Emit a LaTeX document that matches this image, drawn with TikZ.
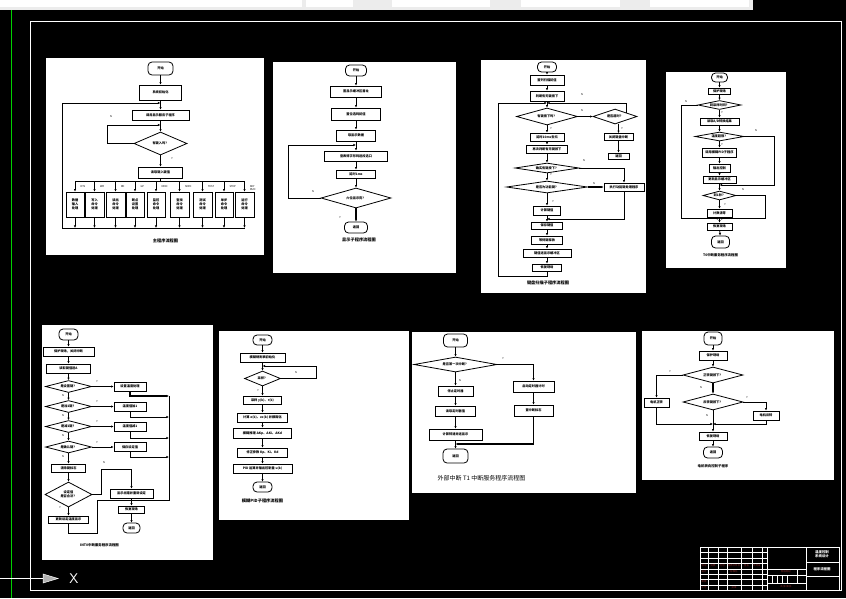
\documentclass[tikz,border=0pt]{standalone}
\usepackage{fontspec}
\newfontfamily\cjk{Noto Sans CJK SC}
\usetikzlibrary{arrows.meta,shapes.geometric}
\definecolor{cadgreen}{RGB}{0,210,0}
\definecolor{tbred}{RGB}{150,45,45}
\tikzset{sz/.style 2 args={minimum width=#1pt, minimum height=#2pt}}

\begin{document}
\begin{tikzpicture}[x=1pt, y=-1pt,
    font=\cjk\bfseries\fontsize{3.2}{3.9}\selectfont,
    sheet/.style={fill=white},
    proc/.style={draw, line width=0.8pt, inner sep=0pt, align=center},
    term/.style={proc, rounded corners=4pt},
    test/.style={diamond, draw, line width=0.8pt, inner sep=0pt, aspect=4, align=center},
    arrow/.style={-{Latex[length=2.6pt,width=2.4pt]}, line width=0.8pt},
    link/.style={line width=0.8pt},
    yn/.style={font=\cjk\fontsize{2.6}{3}\selectfont},
    caption/.style={font=\cjk\bfseries\fontsize{4.2}{5}\selectfont},
    tbline/.style={draw=white, line width=0.4pt},
    tbtext/.style={text=tbred, font=\cjk\fontsize{2.4}{2.8}\selectfont}
  ]
  \useasboundingbox (0,0) rectangle (846,598);
  \fill[black] (0,0) rectangle (846,598);
  \fill[gray!15] (0,0) rectangle (753,10);
  \fill[white] (0,0) rectangle (302,7);
  \fill[white] (306,0) rectangle (353,7);
  \fill[white] (392,0) rectangle (490,7);
  \fill[white] (521,0) rectangle (620,7);
  \fill[white] (650,0) rectangle (749,7);
  \draw[cadgreen, line width=0.8pt] (11,10) -- (11,598);
  \draw[white, line width=0.6pt] (30,21.5) rectangle (841,590);

  \fill[sheet] (46,58) rectangle (264,255);
  \node[term, sz={25}{13}] (p1start) at (160.5,68.5) {开始};
  \node[proc, sz={42}{15}] (p1init) at (160.5,92.5) {系统初始化};
  \node[proc, sz={57}{10}] (p1disp) at (160.5,115) {调用显示服务子程序};
  \node[test, sz={53}{23}] (p1key) at (160.5,143.5) {有键入吗？};
  \node[proc, sz={44}{11}] (p1read) at (160.5,172.5) {读取键入键值};
  \coordinate (p1top) at (160.5,103);
  \coordinate (p1bus) at (160.5,181);
  \coordinate (p1low) at (62,228);
  \coordinate (p1wait) at (107,125);
  \draw[arrow] (p1start) -- (p1init);
  \draw[arrow] (p1init) -- (p1disp);
  \draw[arrow] (p1disp) -- (p1key);
  \draw[arrow] (p1key) -- (p1read);
  \draw[link] (p1read) -- (p1bus);
  \draw[arrow] (p1key.west) -| (p1wait) -- (p1wait -| p1key);
  \foreach \n/\x/\w/\lab/\txt in {
      1/75/18/DTS/{数据\\输入\\处理}, 2/94.5/19/WR/{写入\\命令\\处理},
      3/115.5/19/RD/{读出\\命令\\处理}, 4/135/18/GP/{断点\\设置\\处理},
      5/156/18/MON/{监控\\命令\\处理}, 6/179.5/19/SERC/{查找\\命令\\处理},
      7/202.5/19/TEST/{测试\\命令\\处理}, 8/224/18/STEP/{单步\\命令\\处理},
      9/244.5/19/{KEY\\RUN}/{运行\\命令\\处理}} {
    \node[proc, sz={\w}{25}] (p1k\n) at (\x,204.5) {\txt};
    \draw[arrow] (p1k\n.north |- p1bus) -- (p1k\n);
    \draw[arrow] (p1k\n) -- (p1k\n |- p1low);
    \node[yn, anchor=north west, align=left] (p1l\n) at ([xshift=2pt,yshift=-1pt]p1k\n.north |- p1bus) {\lab};
  }
  \draw[link] (p1k1.north |- p1bus) -- (p1k9.north |- p1bus);
  \draw[link] (p1low) -- (p1low -| p1k9);
  \draw[arrow] (p1low) |- (p1top);
  \node[yn] (p1n) at (111,117) {N};
  \node[yn] (p1y) at (172,159) {Y};
  \node[caption] (p1cap) at (165.5,240.5) {主程序流程图};

  \fill[sheet] (273,62) rectangle (456,273);
  \node[term, sz={21}{11}] (p2start) at (356,70.5) {开始};
  \node[proc, sz={51}{11}] (p2b1) at (356,91.5) {置显示缓冲区首址};
  \node[proc, sz={49}{12}] (p2b2) at (356,114) {置位选码初值};
  \node[proc, sz={39}{11}] (p2b3) at (356,135.5) {取显示数据};
  \node[proc, sz={63}{10}] (p2b4) at (356,156) {查表得字形码送段选口};
  \node[proc, sz={39}{8}] (p2b5) at (356,174) {延时1ms};
  \node[test, sz={70}{20}] (p2d) at (356,198) {六位显示完？};
  \node[term, sz={23}{11}] (p2end) at (356,227.5) {返回};
  \coordinate (p2hook) at (288,145);
  \coordinate (p2top) at (356,145);
  \draw[arrow] (p2start) -- (p2b1);
  \draw[arrow] (p2b1) -- (p2b2);
  \draw[arrow] (p2b2) -- (p2b3);
  \draw[arrow] (p2b3) -- (p2b4);
  \draw[arrow] (p2b4) -- (p2b5);
  \draw[arrow] (p2b5) -- (p2d);
  \draw[arrow, line width=1.2pt] (p2d) -- (p2end);
  \draw[arrow] (p2d.west) -| (p2hook) -- (p2top);
  \node[yn] (p2n) at (313,192) {N};
  \node[yn] (p2y) at (340,218) {Y};
  \node[caption] (p2cap) at (359,240) {显示子程序流程图};

  \fill[sheet] (481,60) rectangle (646,293);
  \node[term, sz={19}{10}] (p3start) at (547,67) {开始};
  \node[proc, sz={34}{10}] (p3b1) at (547,80) {置列扫描初值};
  \node[proc, sz={34}{10}] (p3b2) at (547,96) {判断有无键按下};
  \node[test, sz={61}{17}] (p3d1) at (547,116.5) {有键按下吗？};
  \node[test, sz={44}{15}] (p3d2) at (615,116.5) {是否超时？};
  \node[proc, sz={29}{7}] (p3r1) at (618.5,137) {关闭键盘中断};
  \node[proc, sz={21}{6}] (p3r2) at (618.5,156) {返回};
  \node[proc, sz={34}{8}] (p3a) at (547,137) {延时10ms去抖};
  \node[proc, sz={41}{8}] (p3b) at (547,149) {再次判断有无键按下};
  \node[test, sz={64}{10}] (p3d3) at (547,168) {确实有键按下？};
  \node[test, sz={81}{12}] (p3d4) at (547,187) {是否为功能键？};
  \node[proc, sz={40}{8}] (p3c) at (624,187) {执行功能键处理程序};
  \node[proc, sz={27}{9}] (p3d) at (547,210.5) {计算键值};
  \node[proc, sz={31}{7}] (p3e) at (547,225.5) {保存键值};
  \node[proc, sz={31}{8}] (p3f) at (547,240) {等待键释放};
  \node[proc, sz={48}{8}] (p3g) at (547,253) {键值送显示缓冲区};
  \node[proc, sz={29}{7}] (p3h) at (547,267.5) {恢复现场};
  \coordinate (p3top) at (547,103);
  \coordinate (p3lb) at (498,276);
  \coordinate (p3join) at (547,219);
  \draw[arrow] (p3start) -- (p3b1);
  \draw[arrow] (p3b1) -- (p3b2);
  \draw[arrow] (p3b2) -- (p3d1);
  \draw[arrow] (p3d1) -- (p3a);
  \draw[arrow] (p3a) -- (p3b);
  \draw[arrow] (p3b) -- (p3d3);
  \draw[arrow] (p3d3) -- (p3d4);
  \draw[arrow] (p3d4) -- (p3d);
  \draw[arrow] (p3d) -- (p3e);
  \draw[arrow] (p3e) -- (p3f);
  \draw[arrow] (p3f) -- (p3g);
  \draw[arrow] (p3g) -- (p3h);
  \draw[arrow] (p3d1) -- (p3d2);
  \draw[arrow] (p3d2.south -| p3r1) -- (p3r1);
  \draw[arrow, line width=1.4pt] (p3r1) -- (p3r2);
  \draw[arrow] (p3d2.north east) |- (p3top);
  \draw[arrow] (p3d3.east) -| (p3c);
  \draw[arrow, line width=1.2pt] (p3d4) -- (p3c);
  \draw[arrow] (p3c) |- (p3join);
  \draw[arrow] (p3h) |- (p3lb) |- (p3top);
  \node[yn] (p3n1) at (582,95) {N};
  \node[yn] (p3n2) at (582,111) {N};
  \node[yn] (p3y1) at (622,129) {Y};
  \node[yn] (p3y2) at (551,129) {Y};
  \node[yn] (p3n3) at (584,161) {N};
  \node[yn] (p3y3) at (551,175) {Y};
  \node[yn] (p3n4) at (594,184) {N};
  \node[yn] (p3y4) at (553,202) {Y};
  \node[caption] (p3cap) at (548,282.5) {键盘扫描子程序流程图};

  \fill[sheet] (666,72) rectangle (786,268);
  \node[term, sz={16}{9}] (p4start) at (719.5,77.5) {开始};
  \node[proc, sz={22}{6}] (p4b1) at (719.5,91) {保护现场};
  \node[test, sz={43}{9}] (p4d1) at (719.5,105) {到采样时间？};
  \node[proc, sz={39}{7}] (p4b2) at (719.5,121.5) {读取A/D转换结果};
  \node[test, sz={49}{9}] (p4d2) at (719.5,136.5) {温度超限？};
  \node[proc, sz={34}{9}] (p4b3) at (719.5,152.5) {调用模糊PID子程序};
  \node[proc, sz={21}{8}] (p4b4) at (719.5,168) {输出控制};
  \node[proc, sz={33}{7}] (p4b5) at (719.5,179.5) {更新显示缓冲区};
  \node[test, sz={33}{9}] (p4d3) at (719.5,195.5) {到1秒？};
  \node[proc, sz={25}{8}] (p4b6) at (719.5,213) {计数清零};
  \node[proc, sz={25}{7}] (p4b7) at (719.5,226.5) {恢复现场};
  \node[term, sz={18}{12}] (p4end) at (720.5,242) {返回};
  \coordinate (p4ll) at (681,218.5);
  \coordinate (p4j2) at (719.5,218.5);
  \coordinate (p4rr) at (774,185);
  \coordinate (p4j1) at (719.5,185);
  \coordinate (p4r3) at (765,218.5);
  \draw[arrow] (p4start) -- (p4b1);
  \draw[arrow] (p4b1) -- (p4d1);
  \draw[arrow] (p4d1) -- (p4b2);
  \draw[arrow] (p4b2) -- (p4d2);
  \draw[arrow] (p4d2) -- (p4b3);
  \draw[arrow] (p4b3) -- (p4b4);
  \draw[arrow] (p4b4) -- (p4b5);
  \draw[arrow] (p4b5) -- (p4d3);
  \draw[arrow] (p4d3) -- (p4b6);
  \draw[arrow] (p4b6) -- (p4b7);
  \draw[arrow] (p4b7) -- (p4end);
  \draw[arrow] (p4d1.west) -| (p4ll) -- (p4j2);
  \draw[arrow] (p4d2.east) -| (p4rr) -- (p4j1);
  \draw[arrow] (p4d3.east) -| (p4r3) -- (p4j2);
  \node[yn] (p4n1) at (686,102) {N};
  \node[yn] (p4y1) at (722,113) {Y};
  \node[yn] (p4n2) at (756,131) {N};
  \node[yn] (p4y2) at (722,145) {Y};
  \node[yn] (p4n3) at (743,190) {N};
  \node[yn] (p4y3) at (725,205) {Y};
  \node[caption, font=\cjk\bfseries\fontsize{3.4}{4}\selectfont] (p4cap) at (720.5,255.5) {T0中断服务程序流程图};

  \fill[sheet] (42,325) rectangle (213,560);
  \node[term, sz={19}{11}] (p5start) at (68.5,334.5) {开始};
  \node[proc, sz={51}{9}] (p5b1) at (68.5,351.5) {保护现场，关闭中断};
  \node[proc, sz={44}{9}] (p5b2) at (68.5,368.5) {读取键值送A};
  \foreach \n/\y/\q/\act in {1/386.5/是设置键？/设置温度处理, 2/406.5/是加1键？/温度值加1,
      3/426.5/是减1键？/温度值减1, 4/447/是确认键？/保存设定值} {
    \node[test, sz={46}{12}] (p5d\n) at (68.5,\y) {\q};
    \node[proc, sz={32}{9}] (p5r\n) at (130,\y) {\act};
    \draw[arrow] (p5d\n) -- (p5r\n);
    \node[yn] (p5y\n) at (97,\y-4.5) {Y};
    \node[yn] (p5n\n) at (63,\y+9.5) {N};
  }
  \node[proc, sz={34}{8}] (p5b5) at (68.5,468) {清除键标志};
  \node[test, sz={47}{25}] (p5d5) at (68.5,494.5) {设定值\\是否合法？};
  \node[proc, sz={43}{9}] (p5r5) at (131.5,493.5) {显示出错并重新设定};
  \node[proc, sz={40}{7}] (p5b6) at (68.5,519.5) {更新设定温度显示};
  \node[proc, sz={26}{7}] (p5b7) at (131.5,509.5) {恢复现场};
  \node[term, sz={17}{10}] (p5end) at (131.5,528) {返回};
  \coordinate (p5e1) at (169,396);
  \coordinate (p5e2) at (169,417);
  \coordinate (p5e3) at (169,438);
  \coordinate (p5e4) at (169,457);
  \coordinate (p5bend) at (169,500.5);
  \coordinate (p5back) at (97,500.5);
  \coordinate (p5foot) at (97,533);
  \coordinate (p5mid) at (131.5,500.5);
  \coordinate (p5hop) at (101,469);
  \draw[arrow] (p5start) -- (p5b1);
  \draw[arrow] (p5b1) -- (p5b2);
  \draw[arrow] (p5b2) -- (p5d1);
  \draw[arrow] (p5d1) -- (p5d2);
  \draw[arrow] (p5d2) -- (p5d3);
  \draw[arrow] (p5d3) -- (p5d4);
  \draw[arrow, line width=1.2pt] (p5d4) -- (p5b5);
  \draw[arrow] (p5b5) -- (p5d5);
  \draw[arrow, line width=1.2pt] (p5d5) -- (p5b6);
  \draw[arrow, line width=1.2pt] (p5r1) |- (p5e1);
  \draw[arrow] (p5r2) |- (p5e2);
  \draw[arrow] (p5r3) |- (p5e3);
  \draw[arrow] (p5r4) |- (p5e4);
  \draw[link] (p5e1) -- (p5bend);
  \draw[link, line width=1.2pt] (p5bend) -- (p5back);
  \draw[link] (p5b6) |- (p5foot) -- (p5back);
  \draw[arrow] (p5d5.east) -| (p5hop) -| (p5r5);
  \draw[link] (p5r5) -- (p5mid);
  \draw[arrow] (p5mid) -- (p5b7);
  \draw[arrow] (p5b7) -- (p5end);
  \node[yn] (p5n5) at (104,463) {N};
  \node[yn] (p5y5) at (60,508) {Y};
  \node[caption, font=\cjk\bfseries\fontsize{3.4}{4}\selectfont] (p5cap) at (99.5,545.5) {INT0中断服务程序流程图};

  \fill[sheet] (219,331) rectangle (409,520);
  \node[term, sz={19}{10}] (p6start) at (262.5,340) {开始};
  \node[proc, sz={45}{9}] (p6b1) at (262.5,357.5) {模糊规则表初始化};
  \node[test, sz={36}{15}] (p6d) at (262.5,378.5) {采样？};
  \node[proc, sz={38}{8}] (p6b2) at (262.5,400) {采样 y(k)、r(k)};
  \node[proc, sz={50}{9}] (p6b3) at (262.5,417.5) {计算 e(k)、ec(k) 并模糊化};
  \node[proc, sz={58}{10}] (p6b4) at (262.5,433) {模糊推理 ΔKp、ΔKi、ΔKd};
  \node[proc, sz={50}{9}] (p6b5) at (262.5,452.5) {修正参数 Kp、Ki、Kd};
  \node[proc, sz={59}{9}] (p6b6) at (262.5,468.5) {PID 运算并输出控制量 u(k)};
  \node[term, sz={19}{10}] (p6end) at (262.5,487) {返回};
  \coordinate (p6hook) at (316,366);
  \coordinate (p6top) at (262.5,366);
  \draw[arrow] (p6start) -- (p6b1);
  \draw[arrow] (p6b1) -- (p6d);
  \draw[arrow] (p6d) -- (p6b2);
  \draw[arrow] (p6b2) -- (p6b3);
  \draw[arrow] (p6b3) -- (p6b4);
  \draw[arrow] (p6b4) -- (p6b5);
  \draw[arrow] (p6b5) -- (p6b6);
  \draw[arrow] (p6b6) -- (p6end);
  \draw[arrow] (p6d.east) -| (p6hook) -- (p6top);
  \node[yn] (p6n) at (296,373) {N};
  \node[yn] (p6y) at (258,391) {Y};
  \node[caption] (p6cap) at (262.5,500.5) {模糊PID子程序流程图};

  \fill[sheet] (412,332) rectangle (636,493);
  \node[term, sz={24}{13}] (p7start) at (455.5,340.5) {开始};
  \node[test, sz={83}{15}] (p7d) at (455.5,364.5) {是否第一次中断？};
  \node[proc, sz={41}{11}] (p7r1) at (533.5,386.5) {启动定时器计时};
  \node[proc, sz={39}{11}] (p7r2) at (533.5,410.5) {置中断标志};
  \node[proc, sz={35}{10}] (p7l1) at (455.5,391) {停止定时器};
  \node[proc, sz={40}{10}] (p7l2) at (455.5,411) {读取定时器值};
  \node[proc, sz={53}{11}] (p7l3) at (455.5,434.5) {计算转速并送显示};
  \node[term, sz={25}{14}] (p7end) at (455.5,456) {返回};
  \coordinate (p7join) at (455.5,444);
  \draw[arrow] (p7start) -- (p7d);
  \draw[arrow, line width=1.2pt] (p7d) -- (p7l1);
  \draw[arrow] (p7l1) -- (p7l2);
  \draw[arrow, line width=1.2pt] (p7l2) -- (p7l3);
  \draw[arrow] (p7l3) -- (p7end);
  \draw[arrow] (p7d.east) -| (p7r1);
  \draw[arrow] (p7r1) -- (p7r2);
  \draw[arrow, line width=1.2pt] (p7r2) |- (p7join);
  \node[yn] (p7y) at (503,359) {Y};
  \node[yn] (p7n) at (460,381) {N};
  \node[caption, font=\cjk\fontsize{6}{7}\selectfont] (p7cap) at (481.5,478) {外部中断 T1 中断服务程序流程图};

  \fill[sheet] (642,331) rectangle (834,480);
  \node[term, sz={18}{13}] (p8start) at (713,338.5) {开始};
  \node[proc, sz={28}{9}] (p8b1) at (713,355.5) {保护现场};
  \node[test, sz={60}{16}] (p8d1) at (713,375) {正转键按下？};
  \node[proc, sz={25}{9}] (p8l) at (656.5,402.5) {电机正转};
  \node[test, sz={60}{16}] (p8d2) at (713,402) {反转键按下？};
  \node[proc, sz={26}{9}] (p8r) at (766,415.5) {电机反转};
  \node[proc, sz={28}{8}] (p8b2) at (713,436) {恢复现场};
  \node[term, sz={19}{11}] (p8end) at (713,452.5) {返回};
  \coordinate (p8join) at (713,424);
  \draw[arrow] (p8start) -- (p8b1);
  \draw[arrow] (p8b1) -- (p8d1);
  \draw[arrow, line width=1.2pt] (p8d1) -- (p8d2);
  \draw[arrow] (p8d1.west) -| (p8l);
  \draw[arrow] (p8l) |- (p8join);
  \draw[arrow] (p8d2.east) -| (p8r);
  \draw[arrow] (p8r) |- (p8join);
  \draw[arrow] (p8d2) -- (p8b2);
  \draw[arrow] (p8b2) -- (p8end);
  \node[yn] (p8y1) at (670,372) {Y};
  \node[yn] (p8n1) at (701,388) {N};
  \node[yn] (p8y2) at (747,398) {Y};
  \node[yn] (p8n2) at (707,416) {N};
  \node[caption, font=\cjk\bfseries\fontsize{3.4}{4}\selectfont] (p8cap) at (713,466.5) {电机转向控制子程序};

  \draw[tbline] (700,547) rectangle (839,590);
  \draw[tbline] (767,547) -- (767,590);
  \draw[tbline] (806,547) -- (806,590);
  \foreach \y in {552,558,563,569,574,579,585}
    \draw[tbline] (700,\y) -- (767,\y);
  \foreach \x in {708,718,727,741,752,762}
    \draw[tbline] (\x,547) -- (\x,590);
  \draw[tbline] (767,569) -- (806,569);
  \draw[tbline] (767,575) -- (806,575);
  \draw[tbline] (767,583) -- (806,583);
  \foreach \x in {772,777,782,787}
    \draw[tbline] (\x,575) -- (\x,583);
  \draw[tbline] (797,569) -- (797,583);
  \draw[tbline] (806,562) -- (839,562);
  \draw[tbline] (806,576) -- (839,576);
  \node[tbtext] (tbmark) at (704,566) {标记};
  \node[tbtext] (tbcount) at (713,566) {处数};
  \node[tbtext] (tbzone) at (722.5,566) {分区};
  \node[tbtext] (tbfile) at (734,566) {更改文件号};
  \node[tbtext] (tbsign) at (746.5,566) {签名};
  \node[tbtext] (tbdate) at (757,566) {年月日};
  \node[tbtext] (tbdesign) at (704,571.5) {设计};
  \node[tbtext] (tbcheck) at (704,582) {审核};
  \node[tbtext] (tbcraft) at (704,587.5) {工艺};
  \node[tbtext] (tbstd) at (734,571.5) {标准化};
  \node[tbtext] (tbapprove) at (734,587.5) {批准};
  \node[tbtext] (tbstage) at (786,572) {阶段标记};
  \node[tbtext] (tbscale) at (786,586.5) {共 张 第 张};
  \node[text=white, font=\cjk\bfseries\fontsize{3.4}{4}\selectfont, align=center] (tbtitle) at (822,554.5) {温度控制\\系统设计};
  \node[text=white, font=\cjk\bfseries\fontsize{3.4}{4}\selectfont] (tbname) at (822,569) {程序流程图};

  \draw[white, line width=0.6pt] (0,578) -- (43,578);
  \draw[white, fill=gray!60, line width=0.5pt] (43,574) -- (58,578.5) -- (43,583) -- cycle;
  \node[text=white, font=\sffamily\fontsize{14}{14}\selectfont] (ucsx) at (74,578.5) {X};
\end{tikzpicture}
\end{document}
